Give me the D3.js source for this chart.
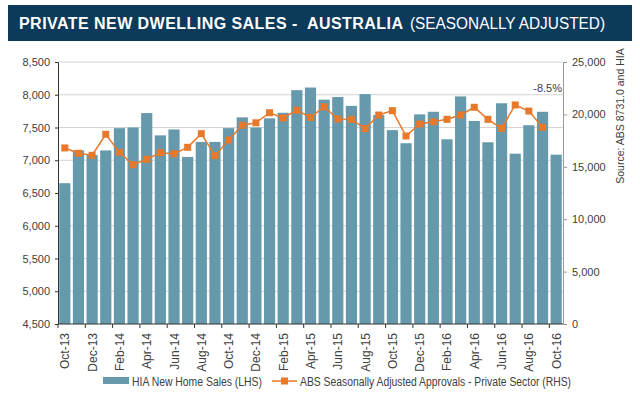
<!DOCTYPE html>
<html>
<head>
<meta charset="utf-8">
<script src="https://cdn.jsdelivr.net/npm/d3@7"></script>
<style>
  body { margin: 0; background: #fff; }
  svg { font-family: "Liberation Sans", Arial, sans-serif; }
</style>
</head>
<body>
<div id="chart"></div>
<script>
(function() {

  "use strict";

  var months = ['Oct-13', 'Nov-13', 'Dec-13', 'Jan-14', 'Feb-14', 'Mar-14', 'Apr-14', 'May-14', 'Jun-14',
    'Jul-14', 'Aug-14', 'Sep-14', 'Oct-14', 'Nov-14', 'Dec-14', 'Jan-15', 'Feb-15', 'Mar-15', 'Apr-15',
    'May-15', 'Jun-15', 'Jul-15', 'Aug-15', 'Sep-15', 'Oct-15', 'Nov-15', 'Dec-15', 'Jan-16', 'Feb-16',
    'Mar-16', 'Apr-16', 'May-16', 'Jun-16', 'Jul-16', 'Aug-16', 'Sep-16', 'Oct-16'];

  // HIA new home sales (left axis)
  var hiaSales = [6650, 7150, 7080, 7150, 7490, 7500, 7720, 7380, 7470, 7050, 7280, 7280, 7490,
    7655, 7500, 7640, 7725, 8070, 8110, 7925, 7965, 7830, 8010, 7690, 7460, 7260, 7700, 7740,
    7320, 7975, 7600, 7275, 7870, 7100, 7535, 7740, 7085];

  // ABS approvals, private sector (right axis); no value for the last month
  var absApprovals = [16800, 16290, 16100, 18100, 16380, 15200, 15720, 16350, 16250, 16860, 18160,
    16060, 17560, 18960, 19200, 20160, 19660, 20400, 19720, 20730, 19560, 19530, 18640, 19940,
    20360, 17940, 19080, 19300, 19530, 19940, 20680, 19530, 18670, 20900, 20320, 18770, null];

  var leftTicks = [4500, 5000, 5500, 6000, 6500, 7000, 7500, 8000, 8500];
  var rightTicks = [0, 5000, 10000, 15000, 20000, 25000];

  var width = 640, height = 398;
  var margin = { top: 62, right: 77, bottom: 74, left: 58 };
  var barColor = '#6699ab';
  var lineColor = '#e8782a';
  var fmt = d3.format(',');

  var svg = d3.select('#chart').append('svg')
    .attr('width', width)
    .attr('height', height);

  // title banner
  svg.append('rect')
    .attr('x', 8).attr('y', 5)
    .attr('width', 624).attr('height', 36)
    .attr('fill', '#0c3a5b');

  svg.append('text')
    .attr('x', 19).attr('y', 29)
    .attr('fill', '#fff')
    .attr('font-weight', 'bold')
    .attr('textLength', 384)
    .attr('lengthAdjust', 'spacing')
    .style('font-size', '16px')
    .style('white-space', 'pre')
    .text('PRIVATE NEW DWELLING SALES -  AUSTRALIA');
  svg.append('text')
    .attr('x', 410).attr('y', 29)
    .attr('fill', '#fff')
    .attr('textLength', 195)
    .attr('lengthAdjust', 'spacingAndGlyphs')
    .style('font-size', '16px')
    .text('(SEASONALLY ADJUSTED)');

  var x = d3.scaleBand()
    .domain(months)
    .range([margin.left, width - margin.right])
    .paddingInner(0.18)
    .paddingOuter(0.09);

  var yLeft = d3.scaleLinear().domain([4500, 8500]).range([height - margin.bottom, margin.top]);
  var yRight = d3.scaleLinear().domain([0, 25000]).range([height - margin.bottom, margin.top]);

  // gridlines
  svg.append('g').selectAll('line')
    .data(leftTicks.slice(1))
    .enter().append('line')
    .attr('x1', margin.left).attr('x2', width - margin.right)
    .attr('y1', function(d) { return yLeft(d); })
    .attr('y2', function(d) { return yLeft(d); })
    .attr('stroke', '#d4d4d4')
    .attr('stroke-width', 1);

  // bars
  svg.append('g').selectAll('rect')
    .data(hiaSales)
    .enter().append('rect')
    .attr('x', function(d, i) { return x(months[i]); })
    .attr('width', x.bandwidth())
    .attr('y', function(d) { return yLeft(d); })
    .attr('height', function(d) { return yLeft(4500) - yLeft(d); })
    .attr('fill', barColor);

  // line + markers
  var pts = absApprovals.map(function(v, i) { return { m: months[i], v: v }; })
    .filter(function(d) { return d.v !== null; });

  var line = d3.line()
    .x(function(d) { return x(d.m) + x.bandwidth() / 2; })
    .y(function(d) { return yRight(d.v); });

  svg.append('path')
    .datum(pts)
    .attr('d', line)
    .attr('fill', 'none')
    .attr('stroke', lineColor)
    .attr('stroke-width', 1.5);

  svg.append('g').selectAll('rect')
    .data(pts)
    .enter().append('rect')
    .attr('x', function(d) { return x(d.m) + x.bandwidth() / 2 - 3.5; })
    .attr('y', function(d) { return yRight(d.v) - 3.5; })
    .attr('width', 7).attr('height', 7)
    .attr('fill', lineColor);

  // left axis
  var leftAxis = svg.append('g')
    .attr('transform', 'translate(' + margin.left + ',0)')
    .call(d3.axisLeft(yLeft).tickValues(leftTicks).tickFormat(fmt).tickSize(3).tickPadding(5));
  leftAxis.select('.domain').attr('stroke', '#333');
  leftAxis.selectAll('.tick line').attr('stroke', '#333');
  leftAxis.selectAll('text').attr('fill', '#404040').style('font-size', '11px')
    .style('font-family', '"Liberation Sans", Arial, sans-serif');

  // right axis
  var rightAxis = svg.append('g')
    .attr('transform', 'translate(' + (width - margin.right) + ',0)')
    .call(d3.axisRight(yRight).tickValues(rightTicks).tickFormat(fmt).tickSize(4).tickPadding(5));
  rightAxis.select('.domain').attr('stroke', '#999');
  rightAxis.selectAll('.tick line').attr('stroke', '#999');
  rightAxis.selectAll('text').attr('fill', '#404040').style('font-size', '11px')
    .style('font-family', '"Liberation Sans", Arial, sans-serif');

  // bottom axis: ticks at every second month boundary
  var bottom = height - margin.bottom;
  var step = x.step();
  var gx = svg.append('g');
  gx.append('line')
    .attr('x1', margin.left).attr('x2', width - margin.right)
    .attr('y1', bottom).attr('y2', bottom)
    .attr('stroke', '#333');
  gx.selectAll('line.tk')
    .data(months.filter(function(d, i) { return i % 2 === 0; }))
    .enter().append('line')
    .attr('class', 'tk')
    .attr('x1', function(d) { return x(d) - step * x.paddingInner() / 2; })
    .attr('x2', function(d) { return x(d) - step * x.paddingInner() / 2; })
    .attr('y1', bottom).attr('y2', bottom + 4)
    .attr('stroke', '#333');
  gx.selectAll('text')
    .data(months.filter(function(d, i) { return i % 2 === 0; }))
    .enter().append('text')
    .attr('transform', function(d) {
      return 'translate(' + (x(d) + x.bandwidth() / 2 + 4.5) + ',' + (bottom + 9) + ') rotate(-90)';
    })
    .attr('text-anchor', 'end')
    .attr('fill', '#404040')
    .style('font-size', '12px')
    .text(function(d) { return d; });

  // annotation
  svg.append('text')
    .attr('x', width - margin.right - 1).attr('y', 92)
    .attr('text-anchor', 'end')
    .attr('fill', '#404040')
    .style('font-size', '11px')
    .text('-8.5%');

  // source
  svg.append('text')
    .attr('transform', 'translate(624,116) rotate(-90)')
    .attr('text-anchor', 'middle')
    .attr('fill', '#404040')
    .style('font-size', '10.5px')
    .text('Source: ABS 8731.0 and HIA');

  // legend
  var lg = svg.append('g').attr('transform', 'translate(0,381)');
  lg.append('rect').attr('x', 103).attr('y', -4).attr('width', 26).attr('height', 7).attr('fill', barColor);
  lg.append('text').attr('x', 132).attr('y', 4.5).attr('fill', '#404040').style('font-size', '12px')
    .attr('textLength', 130).attr('lengthAdjust', 'spacingAndGlyphs')
    .text('HIA New Home Sales (LHS)');
  lg.append('line').attr('x1', 272).attr('x2', 297).attr('y1', 0).attr('y2', 0)
    .attr('stroke', lineColor).attr('stroke-width', 1.5);
  lg.append('rect').attr('x', 281).attr('y', -3.5).attr('width', 7).attr('height', 7).attr('fill', lineColor);
  lg.append('text').attr('x', 300).attr('y', 4.5).attr('fill', '#404040').style('font-size', '12px')
    .attr('textLength', 271).attr('lengthAdjust', 'spacingAndGlyphs')
    .text('ABS Seasonally Adjusted Approvals - Private Sector (RHS)');

})();
</script>
</body>
</html>
